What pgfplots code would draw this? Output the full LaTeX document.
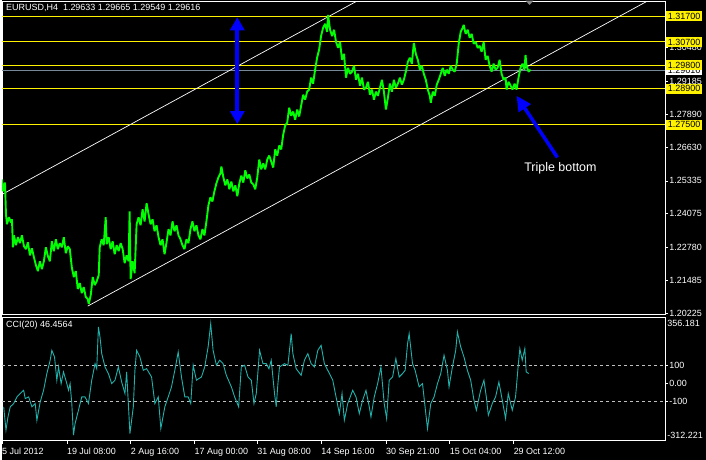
\documentclass[border=0pt]{standalone}
\usepackage{pgfplots}
\pgfplotsset{compat=1.18}
\usepackage{fontspec}
\setmainfont{Liberation Sans}
\usetikzlibrary{arrows.meta}
\definecolor{pricegreen}{RGB}{0,255,0}
\definecolor{ccicol}{RGB}{32,178,170}
\definecolor{bidgray}{RGB}{119,136,153}
\definecolor{lvlgray}{RGB}{192,192,192}
\newcommand{\tf}{\fontsize{9}{10}\selectfont}
\begin{document}
\begin{tikzpicture}
\fill[black] (0pt,0pt) rectangle (706pt,-461pt);
% ---------------- price pane ----------------
\begin{axis}[
  at={(0pt,-1pt)}, anchor=north west, scale only axis,
  width=665pt, height=314pt,
  xmin=0, xmax=665, ymin=1.2019, ymax=1.3228,
  axis background/.style={fill=black},
  axis line style={white, line width=0.8pt},
  clip mode=individual,
  xtick=\empty,
  ytick={1.20225,1.21485,1.22780,1.24075,1.25335,1.26630,1.27890,1.29185,1.30480},
  yticklabels={1.20225,1.21485,1.22780,1.24075,1.25335,1.26630,1.27890,1.29185,1.30480},
  ytick pos=right, yticklabel pos=right, tick align=outside, major tick length=3pt,
  tick style={white, line width=0.6pt},
  yticklabel style={text=white, font=\tf, anchor=west, inner sep=1pt},
]
% level lines
\addplot[yellow, line width=0.9pt] coordinates {(0,1.317) (665,1.317)};
\addplot[yellow, line width=0.9pt] coordinates {(0,1.307) (665,1.307)};
\addplot[yellow, line width=0.9pt] coordinates {(0,1.298) (665,1.298)};
\addplot[yellow, line width=0.9pt] coordinates {(0,1.289) (665,1.289)};
\addplot[yellow, line width=0.9pt] coordinates {(0,1.275) (665,1.275)};
\addplot[bidgray, line width=0.9pt] coordinates {(0,1.29616) (665,1.29616)};
% channel
\addplot[white, line width=0.7pt] coordinates {(86,1.2050) (665,1.3265)};
\addplot[white, line width=0.7pt] coordinates {(0,1.2481) (665,1.3876)};
% price
\addplot[pricegreen, line width=1.9pt, line join=bevel] coordinates {
(0,1.2539) (1,1.2493) (3,1.2527) (4,1.2404) (5,1.2366) (7,1.2393) (9,1.2373) (10,1.2385)
(11,1.2277) (12,1.2323) (14,1.2285) (16,1.2316) (18,1.2293) (20,1.2323) (22,1.2281) (24,1.2270)
(26,1.2296) (28,1.2246) (30,1.2273) (32,1.2239) (34,1.2208) (36,1.2185) (38,1.2223) (40,1.2193)
(42,1.2223) (44,1.2277) (46,1.2243) (48,1.2223) (50,1.2300) (52,1.2262) (54,1.2308) (56,1.2270)
(58,1.2293) (60,1.2277) (62,1.2316) (64,1.2254) (66,1.2281) (68,1.2270) (70,1.2200) (72,1.2162)
(74,1.2185) (76,1.2116) (78,1.2139) (80,1.2100) (82,1.2123) (84,1.2085) (86,1.2077) (87,1.2058)
(89,1.2092) (91,1.2162) (93,1.2131) (95,1.2146) (97,1.2169) (98,1.2277) (100,1.2308) (102,1.2285)
(104,1.2393) (105,1.2289) (107,1.2316) (109,1.2270) (111,1.2300) (113,1.2250) (115,1.2285) (117,1.2262)
(119,1.2293) (121,1.2270) (123,1.2216) (125,1.2246) (127,1.2223) (128,1.2416) (129,1.2154) (131,1.2223)
(133,1.2177) (135,1.2366) (137,1.2393) (139,1.2362) (141,1.2424) (143,1.2377) (145,1.2447) (147,1.2404)
(149,1.2366) (151,1.2385) (153,1.2339) (155,1.2362) (157,1.2316) (159,1.2285) (161,1.2308) (163,1.2250)
(165,1.2296) (167,1.2347) (169,1.2323) (171,1.2377) (173,1.2339) (175,1.2362) (177,1.2323) (179,1.2308)
(181,1.2285) (183,1.2270) (185,1.2308) (187,1.2293) (189,1.2347) (191,1.2377) (193,1.2339) (195,1.2362)
(197,1.2323) (199,1.2308) (201,1.2347) (203,1.2323) (205,1.2377) (207,1.2439) (209,1.2470) (211,1.2454)
(213,1.2493) (215,1.2524) (217,1.2547) (219,1.2562) (220,1.2589) (222,1.2547) (224,1.2516) (226,1.2539)
(228,1.2501) (230,1.2531) (232,1.2493) (234,1.2516) (236,1.2474) (238,1.2524) (240,1.2554) (242,1.2527)
(244,1.2574) (246,1.2543) (248,1.2558) (250,1.2527) (252,1.2520) (254,1.2501) (256,1.2547) (258,1.2616)
(260,1.2578) (262,1.2601) (264,1.2578) (266,1.2616) (268,1.2631) (270,1.2608) (272,1.2585) (274,1.2655)
(276,1.2631) (278,1.2670) (280,1.2655) (282,1.2712) (284,1.2747) (286,1.2758) (288,1.2816) (290,1.2785)
(292,1.2801) (294,1.2770) (296,1.2809) (298,1.2782) (300,1.2824) (302,1.2866) (304,1.2847) (306,1.2878)
(308,1.2886) (310,1.2932) (312,1.2909) (314,1.2963) (316,1.3009) (318,1.3040) (320,1.3093) (322,1.3124)
(324,1.3140) (326,1.3109) (327,1.3174) (329,1.3117) (331,1.3093) (333,1.3117) (335,1.3070) (337,1.3047)
(339,1.3070) (341,1.3001) (343,1.3024) (345,1.2932) (347,1.2970) (349,1.2947) (351,1.2955) (353,1.2978)
(355,1.2924) (357,1.2947) (359,1.2901) (361,1.2932) (363,1.2886) (365,1.2893) (367,1.2916) (369,1.2866)
(371,1.2886) (373,1.2847) (375,1.2878) (377,1.2862) (379,1.2893) (381,1.2924) (383,1.2878) (385,1.2809)
(387,1.2855) (389,1.2909) (391,1.2878) (393,1.2924) (395,1.2893) (397,1.2909) (399,1.2932) (401,1.2905)
(403,1.2924) (405,1.2955) (407,1.2993) (409,1.3009) (411,1.2986) (413,1.3066) (415,1.3024) (417,1.3001)
(419,1.2963) (421,1.2978) (423,1.2947) (425,1.2924) (427,1.2886) (429,1.2862) (430,1.2835) (432,1.2878)
(434,1.2862) (436,1.2905) (438,1.2924) (440,1.2947) (442,1.2970) (444,1.2939) (446,1.2963) (448,1.2947)
(450,1.2978) (452,1.2963) (454,1.2955) (456,1.2986) (458,1.3063) (460,1.3109) (462,1.3124) (463,1.3136)
(465,1.3101) (467,1.3117) (469,1.3086) (471,1.3101) (473,1.3063) (475,1.3070) (477,1.3047) (479,1.3055)
(481,1.3032) (483,1.3070) (485,1.3001) (487,1.3016) (489,1.2978) (491,1.2955) (493,1.2986) (495,1.2963)
(497,1.2970) (499,1.3001) (501,1.2947) (503,1.2924) (505,1.2932) (506,1.2886) (508,1.2916) (510,1.2901)
(512,1.2886) (514,1.2909) (516,1.2886) (518,1.2932) (520,1.2970) (522,1.2986) (524,1.2963) (525,1.3020)
(526,1.2978) (528,1.2955) (530,1.2963)
};
% annotations
\draw[blue, line width=4pt, {Triangle[width=14pt,length=13pt]}-{Triangle[width=14pt,length=13pt]}]
  (axis cs:236,1.3165) -- (axis cs:236,1.2753);
\draw[blue, line width=3.5pt, -{Triangle[width=14pt,length=15pt]}]
  (axis cs:557,1.2624) -- (axis cs:516,1.2862);
\node[text=white, font=\fontsize{12.5}{14}\selectfont] at (axis cs:560,1.2581) {Triple bottom};
\coordinate (Lbid) at (axis cs:666,1.29616);
\coordinate (L1) at (axis cs:666,1.317);
\coordinate (L2) at (axis cs:666,1.307);
\coordinate (L3) at (axis cs:666,1.298);
\coordinate (L4) at (axis cs:666,1.289);
\coordinate (L5) at (axis cs:666,1.275);
\end{axis}
\draw[black, line width=1.4pt] (0pt,-0.8pt) -- (664.5pt,-0.8pt);
% price labels
\tikzset{lvl/.style={fill=yellow, text=black, anchor=west, inner xsep=1.5pt, inner ysep=0pt, minimum height=10pt, font=\tf}}
\node[lvl, fill=white] at (Lbid) {1.29616};
\node[lvl] at (L1) {1.31700};
\node[lvl] at (L2) {1.30700};
\node[lvl] at (L3) {1.29800};
\node[lvl] at (L4) {1.28900};
\node[lvl] at (L5) {1.27500};
\node[anchor=west, text=white, font=\tf, inner sep=0pt] at (4pt,-7.5pt) {EURUSD,H4\ \ 1.29633 1.29665 1.29549 1.29616};
\fill[lvlgray!70!black] (525pt,-0.5pt) -- (533pt,-0.5pt) -- (529pt,-5pt) -- cycle;
% ---------------- CCI pane ----------------
\begin{axis}[
  at={(0pt,-318pt)}, anchor=north west, scale only axis,
  width=665pt, height=124pt,
  xmin=0, xmax=665, ymin=-320, ymax=368,
  axis background/.style={fill=black},
  axis line style={white, line width=0.8pt},
  clip mode=individual,
  xtick={0,65,129,193,256,320,385,449,513},
  xticklabels={5 Jul 2012,19 Jul 08:00,2 Aug 16:00,17 Aug 00:00,31 Aug 08:00,14 Sep 16:00,30 Sep 21:00,15 Oct 04:00,29 Oct 12:00},
  xtick pos=bottom, xticklabel pos=bottom,
  xticklabel style={text=white, font=\tf, anchor=north west, inner sep=1pt, xshift=-1pt, yshift=-3pt},
  ytick={100,0,-100}, yticklabels={100,0.00,-100},
  ytick pos=right, yticklabel pos=right, tick align=outside, major tick length=3pt,
  tick style={white, line width=0.6pt},
  yticklabel style={text=white, font=\tf, anchor=west, inner sep=1pt},
]
\addplot[lvlgray, line width=0.7pt, dash pattern=on 3pt off 3pt] coordinates {(0,100) (665,100)};
\addplot[lvlgray, line width=0.7pt, dash pattern=on 3pt off 3pt] coordinates {(0,-100) (665,-100)};
\addplot[ccicol, line width=0.9pt] coordinates {
(1.7,-131) (4,-261) (6,-187) (8.3,-131) (11.7,-113) (15,-76) (18.3,-57) (21.7,-39) (23.3,-85) (26.7,-76)
(30,-131) (33.3,-113) (35,-206) (38.3,-104) (41.7,-39) (45,54) (48.3,128) (50,183) (52.7,146) (55,17)
(56.7,91) (59.3,-2) (61.7,63) (65,-2) (66.7,-39) (68.3,-2) (70,-113) (71.7,-289) (73.3,-224) (76.7,-150)
(80,-76) (83.3,-76) (86.7,-113) (90,17) (93.3,109) (95,81) (96.7,313) (98.3,257) (100,165) (103.3,91)
(106.7,54) (110,-2) (113.3,17) (116.7,91) (120,7) (123.3,-57) (125,63) (126.7,-113) (128.3,-280) (131.7,-131)
(133.3,72) (135,183) (138.3,146) (141.7,72) (145,81) (150,35) (153.3,-113) (156.7,-76) (159.3,-252) (163.3,-131)
(166.7,-76) (170,-20) (173.3,72) (176.7,174) (180,35) (183.3,-76) (186.7,-76) (189.3,-113) (191.7,100) (195,17)
(200,35) (203.3,91) (206.7,202) (209.3,331) (211.7,183) (215,100) (218.3,128) (221.7,109) (225,44) (230,-20)
(233.3,-76) (237.3,-131) (240,91) (243.3,100) (246.7,35) (250,17) (252.7,-113) (255,-57) (258.3,183) (261.7,109)
(265,109) (267.7,81) (270,128) (273.3,-57) (275,-131) (276.7,-2) (278.3,91) (283.3,109) (286.7,100) (288.3,183)
(290,276) (291.7,165) (295,81) (300,44) (303.3,128) (306.7,165) (310,109) (313.3,91) (316.7,183) (320,211)
(323.3,109) (326.7,72) (331.7,17) (335,-76) (338.3,-169) (341,-57) (343.3,-206) (346.7,-113) (351.7,-39) (355,-76)
(358.3,-169) (361.7,-94) (365,-39) (368.3,-131) (370,-187) (373.3,-76) (376.7,-2) (380,91) (383.3,-113) (385.7,-196)
(388.3,17) (391.7,35) (395,137) (398.3,35) (401.7,54) (404.3,72) (406.7,220) (408.3,276) (411.7,109) (414.3,72)
(418.3,-20) (421.7,-2) (425,-169) (426.7,-252) (430,-113) (433.3,-76) (436.7,-2) (440,54) (443.3,156) (446.7,72)
(448.3,-20) (451.7,91) (455,183) (456.7,285) (460,202) (463.3,146) (466.7,72) (470,17) (473.3,-94) (475.7,-150)
(480,-39) (483.3,17) (485.7,-76) (487.7,-178) (491.7,-113) (495,-76) (498.3,7) (501.7,-94) (505,-196) (507.7,-57)
(511.7,-150) (515,-76) (517.7,100) (519.3,193) (521.7,128) (524.3,193) (525.7,63) (528.3,54)
};
\coordinate (Ctop) at (axis cs:666,356.181);
\coordinate (Cbot) at (axis cs:666,-312.221);
\end{axis}
\node[anchor=north west, text=white, font=\tf, inner sep=1pt] at (Ctop) {356.181};
\node[anchor=south west, text=white, font=\tf, inner sep=1pt] at (Cbot) {-312.221};
\node[anchor=west, text=white, font=\tf, inner sep=0pt] at (4pt,-326.5pt) {CCI(20) 46.4564};
\path[use as bounding box] (0pt,0pt) rectangle (706pt,-461pt);
\end{tikzpicture}
\end{document}
